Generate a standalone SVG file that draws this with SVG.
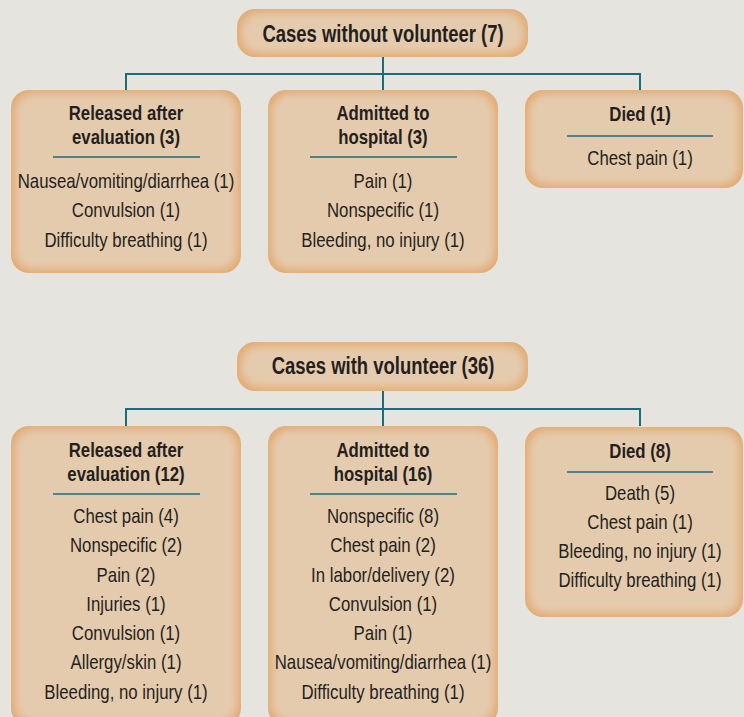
<svg xmlns="http://www.w3.org/2000/svg" width="744" height="717" viewBox="0 0 744 717">
<defs>
<filter id="glow" x="-5%" y="-5%" width="110%" height="110%">
<feMorphology in="SourceAlpha" operator="erode" radius="4" result="er"/>
<feGaussianBlur in="er" stdDeviation="4.5" result="bl"/>
<feFlood flood-color="#e5cbad"/>
<feComposite in2="bl" operator="in" result="inner"/>
<feComposite in="inner" in2="SourceAlpha" operator="in" result="innerc"/>
<feMerge><feMergeNode in="SourceGraphic"/><feMergeNode in="innerc"/></feMerge>
</filter>
<style>
.box{fill:#e2aa70;filter:url(#glow)}
.ln{stroke:#1b6c7c;stroke-width:2;fill:none}
.dv{stroke:#1b6c7c;stroke-width:1.6}
text{font-family:"Liberation Sans",Arial,sans-serif;fill:#231f20;text-anchor:middle}
.root{font-size:24px;font-weight:bold}
.ttl{font-size:19.5px;font-weight:bold}
.it{font-size:20.5px}
</style>
</defs>
<rect width="744" height="717" fill="#e5e4df"/>

<g id="connectors">
<path class="ln" d="M383 57V74M126 90V74H640V90M383 74V90"/>
<path class="ln" d="M383 391V409M126 426V409H640V426M383 409V426"/>
</g>

<g id="root1">
<rect class="box" x="237" y="9" width="291" height="48" rx="18"/>
<g transform="translate(383,0) scale(0.77,1)"><text class="root" x="0" y="42">Cases without volunteer (7)</text></g>
</g>

<g id="released1">
<rect class="box" x="11" y="90" width="230" height="183" rx="18"/>
<line class="dv" x1="53" y1="157" x2="200" y2="157"/>
<g transform="translate(126,0) scale(0.86,1)">
<text class="ttl" x="0" y="120">Released after</text>
<text class="ttl" x="0" y="144">evaluation (3)</text>
</g>
<g transform="translate(126,0) scale(0.82,1)">
<text class="it" x="0" y="188">Nausea/vomiting/diarrhea (1)</text>
<text class="it" x="0" y="217.5">Convulsion (1)</text>
<text class="it" x="0" y="247">Difficulty breathing (1)</text>
</g>
</g>

<g id="admitted1">
<rect class="box" x="268" y="90" width="230" height="183" rx="18"/>
<line class="dv" x1="310" y1="157" x2="457" y2="157"/>
<g transform="translate(383,0) scale(0.86,1)">
<text class="ttl" x="0" y="120">Admitted to</text>
<text class="ttl" x="0" y="144">hospital (3)</text>
</g>
<g transform="translate(383,0) scale(0.82,1)">
<text class="it" x="0" y="188">Pain (1)</text>
<text class="it" x="0" y="217.5">Nonspecific (1)</text>
<text class="it" x="0" y="247">Bleeding, no injury (1)</text>
</g>
</g>

<g id="died1">
<rect class="box" x="525" y="90" width="218" height="98" rx="18"/>
<line class="dv" x1="567" y1="136" x2="713" y2="136"/>
<g transform="translate(640,0) scale(0.86,1)">
<text class="ttl" x="0" y="121">Died (1)</text>
</g>
<g transform="translate(640,0) scale(0.82,1)">
<text class="it" x="0" y="165">Chest pain (1)</text>
</g>
</g>

<g id="root2">
<rect class="box" x="237" y="342" width="291" height="49" rx="18"/>
<g transform="translate(383,0) scale(0.77,1)"><text class="root" x="0" y="374">Cases with volunteer (36)</text></g>
</g>

<g id="released2">
<rect class="box" x="11" y="426" width="230" height="300" rx="18"/>
<line class="dv" x1="53" y1="494" x2="200" y2="494"/>
<g transform="translate(126,0) scale(0.86,1)">
<text class="ttl" x="0" y="457">Released after</text>
<text class="ttl" x="0" y="481">evaluation (12)</text>
</g>
<g transform="translate(126,0) scale(0.82,1)">
<text class="it" x="0" y="523">Chest pain (4)</text>
<text class="it" x="0" y="552.3">Nonspecific (2)</text>
<text class="it" x="0" y="581.6">Pain (2)</text>
<text class="it" x="0" y="610.9">Injuries (1)</text>
<text class="it" x="0" y="640.2">Convulsion (1)</text>
<text class="it" x="0" y="669.5">Allergy/skin (1)</text>
<text class="it" x="0" y="698.8">Bleeding, no injury (1)</text>
</g>
</g>

<g id="admitted2">
<rect class="box" x="268" y="426" width="230" height="300" rx="18"/>
<line class="dv" x1="310" y1="494" x2="457" y2="494"/>
<g transform="translate(383,0) scale(0.86,1)">
<text class="ttl" x="0" y="457">Admitted to</text>
<text class="ttl" x="0" y="481">hospital (16)</text>
</g>
<g transform="translate(383,0) scale(0.82,1)">
<text class="it" x="0" y="523">Nonspecific (8)</text>
<text class="it" x="0" y="552.3">Chest pain (2)</text>
<text class="it" x="0" y="581.6">In labor/delivery (2)</text>
<text class="it" x="0" y="610.9">Convulsion (1)</text>
<text class="it" x="0" y="640.2">Pain (1)</text>
<text class="it" x="0" y="669.5">Nausea/vomiting/diarrhea (1)</text>
<text class="it" x="0" y="698.8">Difficulty breathing (1)</text>
</g>
</g>

<g id="died2">
<rect class="box" x="525" y="427" width="218" height="190" rx="18"/>
<line class="dv" x1="567" y1="472" x2="713" y2="472"/>
<g transform="translate(640,0) scale(0.86,1)">
<text class="ttl" x="0" y="458">Died (8)</text>
</g>
<g transform="translate(640,0) scale(0.82,1)">
<text class="it" x="0" y="500">Death (5)</text>
<text class="it" x="0" y="529">Chest pain (1)</text>
<text class="it" x="0" y="558">Bleeding, no injury (1)</text>
<text class="it" x="0" y="587">Difficulty breathing (1)</text>
</g>
</g>
</svg>
